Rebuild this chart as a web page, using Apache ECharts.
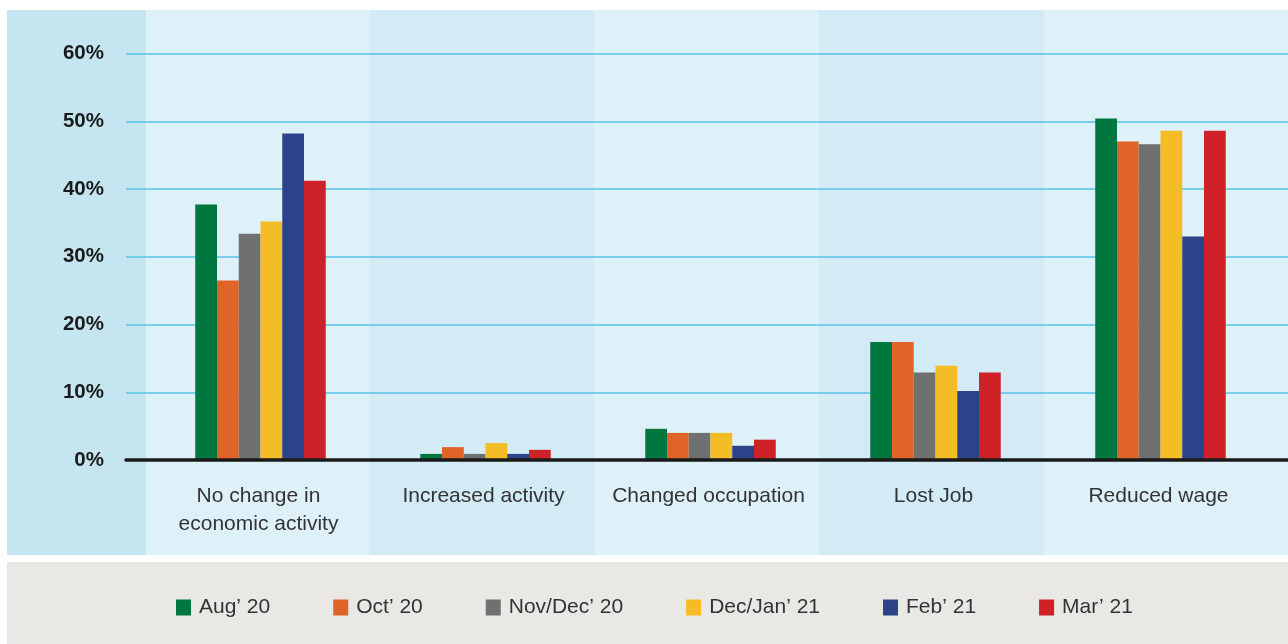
<!DOCTYPE html>
<html><head><meta charset="utf-8">
<script src="https://cdn.jsdelivr.net/npm/echarts@6/dist/echarts.min.js"></script>
<style>html,body{margin:0;padding:0;background:#fff}#c{width:1288px;height:644px}</style>
</head><body><div id="c"></div>
<script>
const categories = ['No change in\neconomic activity','Increased activity','Changed occupation','Lost Job','Reduced wage'];
const seriesNames = ['Aug’ 20','Oct’ 20','Nov/Dec’ 20','Dec/Jan’ 21','Feb’ 21','Mar’ 21'];
const aug20 = [37.7, 0.9, 4.6, 17.4, 50.4];
const oct20 = [26.5, 1.9, 4.0, 17.4, 47.0];
const novDec20 = [33.4, 0.9, 4.0, 12.9, 46.6];
const decJan21 = [35.2, 2.5, 4.0, 13.9, 48.6];
const feb21 = [48.2, 0.9, 2.1, 10.2, 33.0];
const mar21 = [41.2, 1.5, 3.0, 12.9, 48.6];
const yTicks = [0, 10, 20, 30, 40, 50, 60];
const colors = ['#00773f','#e06328','#6f7170','#f4bc25','#2c4389','#ce2128'];
const values = [aug20, oct20, novDec20, decJan21, feb21, mar21];

const chart = echarts.init(document.getElementById('c'), null, {renderer:'canvas'});
const yMin = yTicks[0], yMax = yTicks[yTicks.length-1], yInt = yTicks[1]-yTicks[0];
const font = 'Liberation Sans, Arial, sans-serif';
chart.setOption({
  animation: false,
  graphic: [
    {type:'rect', z:-20, silent:true, shape:{x:7,y:10,width:1281,height:545}, style:{fill:'#dff1f8'}},
    {type:'rect', z:-19, silent:true, shape:{x:7,y:10,width:139,height:545}, style:{fill:'#c5e6f1'}},
    {type:'rect', z:-20, silent:true, shape:{x:7,y:562,width:1281,height:82}, style:{fill:'#e9e8e4'}}
  ],
  grid: [
    {left:145, width:1123, top:10, bottom:89},
    {left:126, right:0, top:53.5, bottom:184},
    {left:148, width:1125, top:53.5, bottom:184},
    {left:146, width:1125, top:53.5, bottom:184}
  ],
  xAxis: [
    {type:'category', gridIndex:0, data:categories, z:-5, axisLine:{show:false}, axisTick:{show:false}, axisLabel:{show:false},
     splitArea:{show:true, interval:0, areaStyle:{color:['rgba(0,0,0,0)','#d3ebf5']}}},
    {type:'category', gridIndex:1, data:categories, offset:2, axisLine:{show:true, lineStyle:{color:'#1a1a1a', width:3.5}}, axisTick:{show:false}, axisLabel:{show:false}, z:5},
    {type:'category', gridIndex:2, data:categories, show:false},
    {type:'category', gridIndex:3, data:categories, axisLine:{show:false}, axisTick:{show:false},
     axisLabel:{show:true, interval:0, color:'#333', fontSize:21, fontFamily:font, lineHeight:28, margin:22}}
  ],
  yAxis: [
    {type:'value', gridIndex:0, show:false},
    {type:'value', gridIndex:1, min:yMin, max:yMax, interval:yInt, z:1,
     axisLine:{show:false}, axisTick:{show:false},
     axisLabel:{formatter:'{value}%', color:'#1a1a1a', fontWeight:'bold', fontSize:20.5, fontFamily:font, margin:22},
     splitLine:{show:true, lineStyle:{color:'#56c3e4', width:1.5}}},
    {type:'value', gridIndex:2, min:yMin, max:yMax, interval:yInt, show:false, splitLine:{show:false}},
    {type:'value', gridIndex:3, min:yMin, max:yMax, interval:yInt, show:false, splitLine:{show:false}}
  ],
  legend: {
    left:176, top:597, padding:0, itemWidth:15, itemHeight:16, itemGap:63, icon:'rect',
    textStyle:{fontSize:21, color:'#333', fontFamily:font, padding:[0,0,0,3]},
    data: seriesNames
  },
  series: seriesNames.map((n,i)=>({
    name:n, type:'bar', xAxisIndex:2, yAxisIndex:2, data:values[i],
    barGap:'0%', barCategoryGap:'42%', itemStyle:{color:colors[i]}
  }))
});
</script></body></html>
